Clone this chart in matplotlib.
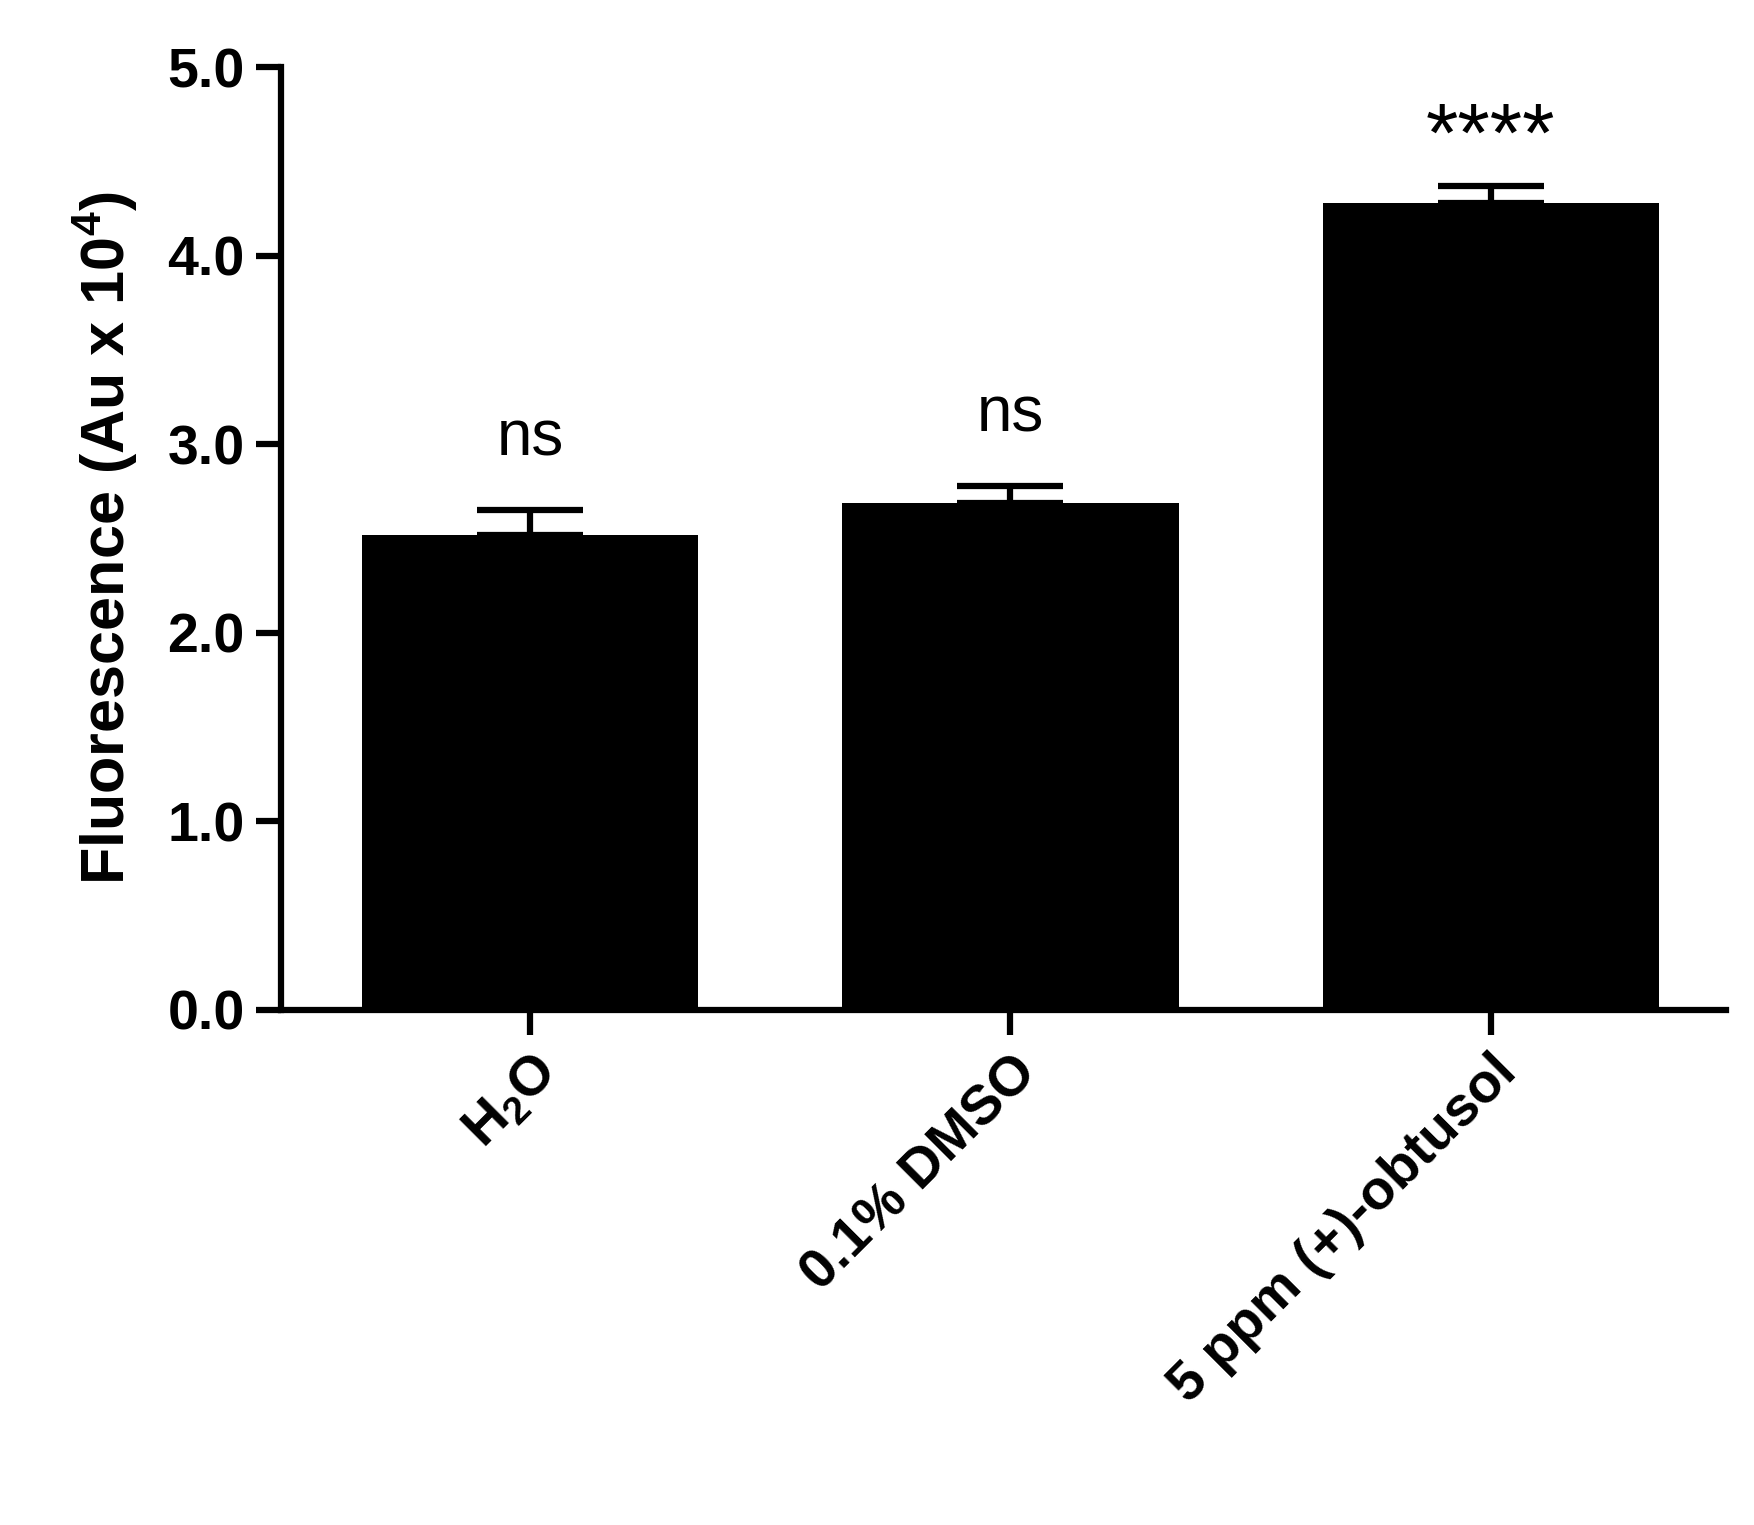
import matplotlib
matplotlib.use("Agg")
import matplotlib.pyplot as plt

# data
groups = ["H$_2$O", "0.1% DMSO", "5 ppm (+)-obtusol"]
means = [2.52, 2.69, 4.28]
sems = [0.13, 0.09, 0.09]
labels = ["ns", "ns", "****"]

plt.rcParams['font.family'] = ['Liberation Sans', 'DejaVu Sans']
plt.rcParams['mathtext.fontset'] = 'custom'
plt.rcParams['mathtext.rm'] = 'Liberation Sans:bold'

fig = plt.figure(figsize=(17.54, 15.25), dpi=100)
ax = fig.add_axes([0.160, 0.338, 0.824, 0.618])

lw = 4.5
x = range(len(groups))
ax.bar(x, means, width=0.7, color='black', zorder=2)
ax.errorbar(x, means, yerr=[[0]*3, sems], fmt='none', ecolor='black',
            elinewidth=lw, capsize=38, capthick=lw, zorder=3)

for i, (m, s, t) in enumerate(zip(means, sems, labels)):
    if t == "ns":
        ax.text(i, m + s + 0.22, t, ha='center', va='bottom', fontsize=46)
    else:
        ax.text(i, m + s + 0.04, t, ha='center', va='bottom', fontsize=60)

ax.set_xlim(-0.52, 2.49)
ax.set_ylim(0, 5.0)
ax.set_yticks([0, 1, 2, 3, 4, 5])
ax.set_yticklabels([f"{v:.1f}" for v in [0, 1, 2, 3, 4, 5]],
                   fontsize=40, fontweight='bold')
ax.set_xticks(list(x))
ax.set_xticklabels(groups, rotation=45, ha='right', rotation_mode='anchor',
                   fontsize=40, fontweight='bold')
ax.set_ylabel("Fluorescence (Au x 10$^4$)", fontsize=44, fontweight='bold',
              labelpad=20)

for side in ['top', 'right']:
    ax.spines[side].set_visible(False)
for side in ['left', 'bottom']:
    ax.spines[side].set_linewidth(lw)
ax.tick_params(axis='both', width=lw, length=18, pad=8)

fig.savefig("out.png", dpi=100)
